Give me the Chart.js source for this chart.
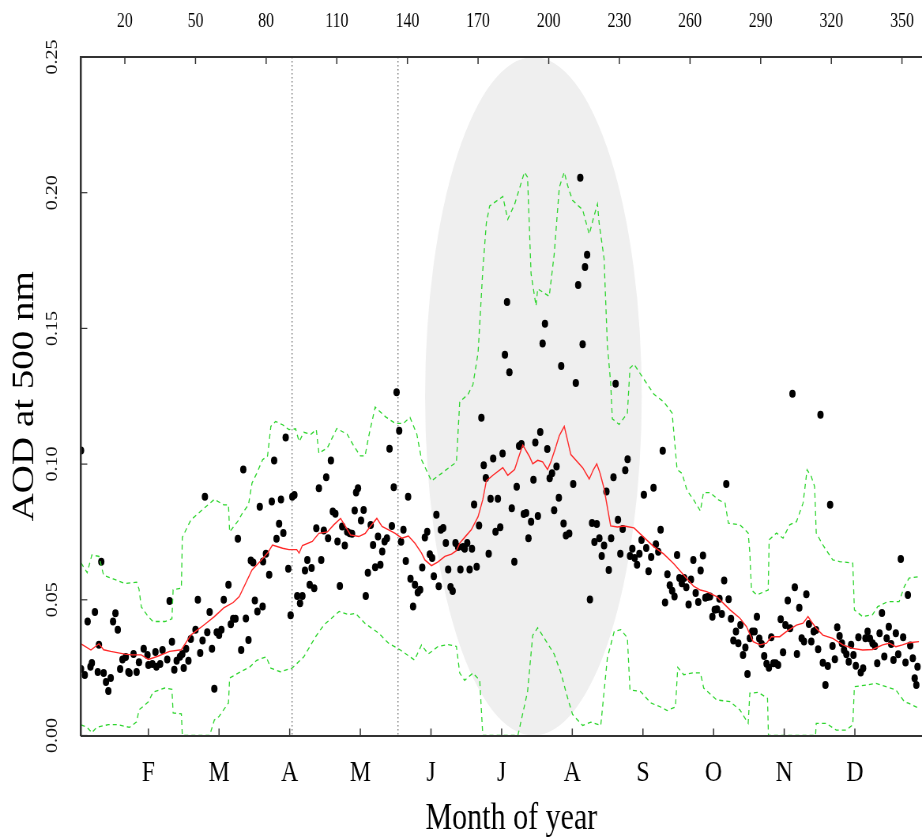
<!DOCTYPE html>
<html>
<head>
<meta charset="utf-8">
<title>AOD at 500 nm</title>
<script src="https://cdn.jsdelivr.net/npm/chart.js@4.4.1/dist/chart.umd.min.js"></script>
<style>
html, body { margin: 0; padding: 0; background: #fff; overflow: hidden; }
/* the original figure is squeezed sideways and cut off on the right, so draw wide and squeeze */
#wrap { width: 1196px; height: 840px; transform: scaleX(0.79006); transform-origin: 0 0; }
canvas { display: block; }
</style>
</head>
<body>
<div id="wrap"><canvas id="aod" width="1196" height="840"></canvas></div>
<script>
// axis ticks
const topTicks = [20, 50, 80, 110, 140, 170, 200, 230, 260, 290, 320, 350];
const monthTicks = [30, 60, 90, 120, 150, 180, 210, 240, 270, 300, 330];
const monthLabels = ['F', 'M', 'A', 'M', 'J', 'J', 'A', 'S', 'O', 'N', 'D'];
const yTicks = [0, 0.05, 0.10, 0.15, 0.20, 0.25];
const markDays = [91, 136];

// daily AOD values [day of year, AOD]
const dotsJanMar = [[1.4,0.105],[1.4,0.0245],[3,0.0223],[4.2,0.042],[5.4,0.0253],[6,0.0267],[7.3,0.0455],[8.5,0.0234],[9,0.0334],[10,0.064],
  [11,0.023],[12,0.0197],[13,0.0164],[14,0.0212],[15,0.042],[16,0.045],[17,0.039],[18,0.0245],[19,0.028],[20.4,0.0289],
  [21.5,0.0234],[22,0.023],[23.7,0.03],[25,0.0234],[26,0.027],[28,0.032],[29.6,0.0297],[30,0.026],[31.7,0.0263],[33,0.0308],
  [33.4,0.0253],[35,0.0263],[36,0.0315],[38,0.028],[39,0.0496],[40,0.0345],[41,0.0242],[42,0.0275],[43.4,0.029],[44.4,0.03],
  [45,0.0249],[46,0.032],[47,0.0275],[48,0.0356],[50,0.039],[51,0.05],[52,0.0304],[53,0.035],[54,0.088],[55,0.038],
  [56,0.0455],[57,0.032],[58,0.0172],[59,0.038],[60,0.037],[61,0.039],[62,0.05],[64,0.0555],[65,0.041],[66,0.043],
  [67,0.043],[68,0.0725],[69.4,0.0315],[70.3,0.098],[71.4,0.0431],[72.5,0.0352],[73.5,0.0645],[74.5,0.0637],[75.2,0.0497],[76.3,0.0457],
  [77.3,0.0843],[78.5,0.0475],[78.7,0.0641],[79.9,0.067],[81.3,0.0592],[82.4,0.0862],[83.4,0.1013],[84.4,0.0725],[85.5,0.078],[86.3,0.087],
  [87.3,0.0746],[88.3,0.1098],[89.4,0.0614]];
const dotsAprMay = [[90.4,0.0443],[91.1,0.088],[92,0.0886],[93.2,0.0514],[94.4,0.0487],[95.4,0.0514],[96.5,0.0608],[97.5,0.0647],[98.5,0.0555],[99.3,0.0617],
  [100.4,0.0543],[101.3,0.0764],[102.4,0.0911],[103.4,0.0647],[104.5,0.0755],[105.5,0.0952],[106.3,0.0727],[107.5,0.1013],[108.3,0.0825],[109.4,0.0817],
  [110.3,0.0715],[111.3,0.0551],[112.3,0.077],[113.4,0.07],[114.4,0.0751],[115.5,0.0745],[116.5,0.0743],[117.6,0.0829],[118.2,0.0895],[119,0.0911],
  [120.3,0.0792],[121.4,0.0831],[122.3,0.0514],[123.2,0.06],[124.4,0.0776],[125.4,0.0702],[126.3,0.062],[127.5,0.0733],[128.5,0.0629],[129.3,0.0678],
  [130.3,0.0715],[131.3,0.0727],[132.4,0.1057],[133.4,0.0772],[134.2,0.0915],[135.4,0.1265],[136.5,0.1123],[137.3,0.0714],[138.3,0.0758],[139.3,0.0643],
  [140.3,0.088],[141.3,0.0578],[142.4,0.0475],[143.2,0.0555],[144.4,0.0527],[145.4,0.0537],[146.3,0.0619],[147.4,0.073],[148.4,0.0751],[149.5,0.0668]];
const dotsJunAug = [[150.5,0.0654],[151.2,0.0587],[152.3,0.0813],[153.3,0.055],[154.2,0.0758],[155.2,0.0765],[156.3,0.0709],[157.3,0.0612],[158.3,0.0547],[159.2,0.0532],
  [160.4,0.0709],[161.5,0.0695],[162.5,0.0612],[163.6,0.0695],[164.3,0.0688],[165.4,0.0709],[166.4,0.0612],[167.4,0.0688],[168.3,0.0851],[169.4,0.0622],
  [170.4,0.0774],[171.4,0.1171],[172.4,0.0996],[173.3,0.0949],[174.5,0.067],[175.3,0.0872],[176.4,0.1021],[177.4,0.0751],[178.4,0.0872],[179.4,0.0767],
  [180.4,0.1039],[181.4,0.1403],[182.3,0.1597],[183.3,0.1338],[184.3,0.0837],[185.4,0.064],[186.4,0.0917],[187.4,0.1067],[188.4,0.1074],[189.4,0.0816],
  [190.4,0.082],[191.4,0.0727],[192.5,0.0788],[193.5,0.0942],[194.3,0.108],[195.4,0.0809],[196.4,0.1118],[197.4,0.1444],[198.4,0.1517],[199.4,0.1056],
  [200.4,0.0948],[201.4,0.0966],[202.3,0.083],[203.3,0.0991],[204.3,0.0876],[205.3,0.1361],[206.3,0.0781],[207.3,0.0737],[208.7,0.0744],[210.4,0.0927],
  [211.5,0.1299],[212.5,0.166],[213.4,0.2055],[214.4,0.1442],[215.4,0.1726],[216.3,0.1771],[217.5,0.0501],[218.4,0.0783],[219.4,0.0713],[220.4,0.0779],
  [221.5,0.0727],[222.5,0.0661],[223.5,0.07],[224.5,0.0899],[225.5,0.061],[226.5,0.0727],[227.5,0.0952],[228.4,0.1296],[229.4,0.0795],[230.4,0.067],
  [231.4,0.0761],[232.5,0.0977],[233.5,0.1018],[234.5,0.0661],[235.5,0.0688],[236.5,0.0654],[237.5,0.0629],[238.5,0.067],[239.4,0.072],[240.4,0.0887],[241.4,0.0691]];
const dotsSepDec = [[242.4,0.0605],[243.5,0.0658],[244.5,0.0913],[245.5,0.0705],[246.5,0.0677],[247.5,0.0758],[248.4,0.1049],[249.4,0.049],[250.4,0.0594],[251.4,0.0554],
  [252.4,0.0533],[253.4,0.0512],[254.5,0.0665],[255.5,0.058],[256.5,0.0561],[257.5,0.058],[258.4,0.0546],[259.4,0.0483],[260.4,0.0575],[261.4,0.0647],
  [262.4,0.0525],[263.5,0.0492],[264.5,0.0608],[265.5,0.0663],[266.5,0.0508],[267.4,0.051],[268.5,0.0512],[269.5,0.0438],[270.5,0.0463],[271.5,0.0465],
  [272.5,0.0504],[273.5,0.0448],[274.5,0.0571],[275.4,0.0927],[276.4,0.0502],[277.4,0.043],[278.4,0.035],[279.5,0.0383],[280.5,0.034],[281.4,0.0407],
  [282.5,0.0297],[283.5,0.0324],[284.4,0.0227],[285.4,0.0358],[286.4,0.0383],[287.4,0.0383],[288.4,0.0438],[289.4,0.0357],[290.4,0.0337],[291.5,0.0293],
  [292.5,0.0264],[293.5,0.025],[294.5,0.0362],[295.4,0.0266],[296.4,0.0266],[297.4,0.026],[298.5,0.0428],[299.5,0.0307],[300.5,0.0407],[301.5,0.0497],
  [302.5,0.0395],[303.5,0.1259],[304.5,0.0546],[305.4,0.03],[306.4,0.0471],[307.4,0.0358],[308.4,0.0346],[309.4,0.052],[310.5,0.0411],[311.5,0.0346],
  [312.5,0.0383],[313.5,0.0389],[314.4,0.0318],[315.4,0.1182],[316.4,0.0268],[317.5,0.0186],[318.5,0.0256],[319.5,0.085],[320.5,0.033],[321.5,0.0281],
  [322.5,0.0399],[323.5,0.0367],[324.5,0.034],[325.4,0.0315],[326.4,0.0299],[327.4,0.0272],[328.4,0.0334],[329.4,0.0297],[330.4,0.0257],[331.5,0.0362],
  [332.5,0.0232],[333.5,0.0248],[334.5,0.0358],[335.4,0.0383],[336.4,0.0357],[337.5,0.034],[338.5,0.033],[339.5,0.0266],[340.5,0.0377],[341.5,0.0451],
  [342.5,0.0291],[343.5,0.0358],[344.4,0.0401],[345.4,0.0337],[346.4,0.0278],[347.4,0.0377],[348.4,0.0299],[349.5,0.065],[350.5,0.0362],[351.5,0.0269],
  [352.5,0.0518],[353.5,0.0332],[354.6,0.0285],[355.4,0.0211],[356.1,0.0186],[356.6,0.0253]];

// running mean (red)
const meanLine = [[1.4,0.0338],[5.6,0.0315],[9,0.0338],[11,0.0316],[14,0.031],[20,0.03],[23,0.0297],[27,0.0297],[30,0.028],[34,0.0292],
  [39,0.031],[44,0.0316],[48,0.037],[54,0.041],[58,0.0438],[62,0.047],[66,0.049],[68.6,0.0512],[74,0.061],[77.8,0.0645],
  [80.6,0.0672],[82.7,0.0702],[87,0.069],[89.7,0.0685],[93,0.0685],[94,0.0672],[95.4,0.07],[99.6,0.0715],[102.4,0.0745],[106,0.075],
  [108.7,0.0776],[111.6,0.08],[113.7,0.077],[115.8,0.0739],[119.3,0.0733],[122.1,0.0745],[124.2,0.077],[127,0.08],[129.2,0.077],[132,0.0758],
  [134.8,0.0745],[137.6,0.0727],[140.4,0.0735],[143.2,0.0708],[146,0.0672],[147.4,0.0647],[150.2,0.0626],[153,0.064],[155.9,0.066],[158.7,0.0668],
  [160.8,0.0681],[162.2,0.0709],[164.3,0.073],[167.1,0.0758],[170,0.0806],[172,0.0869],[173.5,0.0938],[176.3,0.0959],[180.5,0.0987],[182.6,0.0959],
  [185.5,0.098],[187.6,0.1035],[189,0.107],[191.8,0.1028],[193.2,0.1001],[195.3,0.1014],[197.4,0.1008],[199.5,0.098],[200.9,0.1008],[203,0.1063],
  [204.5,0.1105],[206.6,0.1139],[209.4,0.1035],[214.4,0.0987],[217.2,0.0945],[219,0.098],[220.4,0.1001],[221.8,0.0966],[223.5,0.091],[224.9,0.0841],
  [226.3,0.0772],[229.2,0.0768],[232,0.0772],[236.2,0.0765],[240.4,0.073],[244.7,0.0695],[248.9,0.0668],[253.1,0.0633],[257.3,0.0591],[261.5,0.055],
  [264.4,0.0536],[267.1,0.053],[271.3,0.0512],[274.2,0.0487],[277,0.0463],[281.2,0.0432],[284,0.0401],[286.8,0.0346],[289.7,0.0334],[292.5,0.034],
  [294.6,0.0364],[298.1,0.0364],[300.9,0.0383],[305.2,0.0407],[308,0.0414],[310.1,0.0438],[311.5,0.042],[313.6,0.0395],[316.4,0.037],[320.6,0.0358],
  [324.9,0.0334],[329.1,0.0321],[333.3,0.0315],[337.5,0.0317],[341.8,0.0334],[344.6,0.034],[347.4,0.0327],[350.2,0.0334],[353,0.0342],[357.2,0.0346]];

// upper and lower envelopes (green dashed)
const upperLine = [[1.4,0.0636],[4,0.06],[6,0.0665],[9,0.066],[11,0.059],[15,0.0577],[20,0.056],[25,0.0565],[26,0.054],[27,0.0474],
  [30,0.0437],[32,0.042],[37,0.042],[40,0.043],[40.5,0.0537],[44,0.0543],[44.4,0.073],[48,0.0794],[54,0.084],[58,0.087],
  [62,0.085],[64,0.085],[64.5,0.075],[68,0.079],[70,0.082],[72.5,0.085],[74,0.093],[76,0.0966],[78.5,0.1016],[80.6,0.103],
  [82,0.1139],[84,0.1157],[87,0.1145],[89.7,0.1127],[92.5,0.113],[94,0.1083],[96,0.1117],[99,0.111],[101.3,0.1127],[102.4,0.104],
  [106,0.106],[110,0.1131],[114.4,0.111],[117.2,0.1067],[120,0.103],[122,0.103],[123.5,0.11],[126.3,0.121],[130.6,0.1175],[134.8,0.115],
  [138.3,0.115],[141.1,0.1172],[144,0.111],[146,0.1016],[150.2,0.0938],[154.5,0.0966],[158.7,0.0994],[160.8,0.1007],[162.2,0.1229],[165.7,0.1257],
  [167.8,0.1292],[170,0.141],[172,0.1715],[173.5,0.1888],[174.9,0.1951],[180.5,0.1986],[182.6,0.1902],[185.5,0.1957],[189.7,0.2076],[191,0.2057],
  [192.5,0.1701],[194.6,0.1583],[195.3,0.1646],[200.2,0.1618],[202.3,0.1771],[204.5,0.202],[206.6,0.2076],[208,0.2027],[210.1,0.1972],[214.4,0.1937],
  [217.2,0.1847],[219.3,0.1916],[220.7,0.1958],[221.4,0.1888],[223.5,0.1757],[224.9,0.1438],[226.3,0.1299],[227,0.1167],[229.9,0.1146],[233.4,0.1188],
  [234.5,0.1354],[236.2,0.1368],[240.4,0.1313],[244.7,0.1257],[248.9,0.1229],[252.4,0.1188],[254.5,0.098],[256.6,0.0966],[258.7,0.0903],[261.5,0.0869],
  [264.4,0.0827],[265.7,0.0895],[268.5,0.0895],[272.1,0.0868],[274.9,0.0856],[276.3,0.0782],[281.2,0.0776],[284.7,0.0746],[285.4,0.0672],[286.1,0.0536],
  [288.3,0.0518],[293.2,0.0536],[293.6,0.0721],[296.7,0.0746],[299.5,0.0727],[302.3,0.0776],[305.2,0.0788],[308,0.0856],[309.7,0.0979],[311.5,0.0954],
  [312.9,0.0917],[313.6,0.0746],[316.4,0.0702],[320.6,0.0647],[323.5,0.0641],[329.1,0.0635],[329.8,0.0463],[333.3,0.0438],[337.5,0.0445],[339.7,0.0475],
  [343.9,0.0493],[348.8,0.0493],[351,0.0549],[353,0.058],[357.2,0.0585]];
const lowerLine = [[1.4,0.0039],[4,0.003],[6,0.001],[8,0.003],[13,0.004],[17,0.004],[22,0.003],[25,0.005],[26,0.0094],[30,0.0124],
  [32,0.016],[37,0.0175],[40,0.017],[40.5,0.0083],[44,0.008],[44.4,0],[56,0],[58,0.0057],[60,0.007],[64,0.012],
  [64.5,0.0212],[69,0.0234],[73,0.0252],[76,0.0277],[80,0.029],[82,0.0248],[86,0.0235],[91,0.0248],[96,0.029],[101,0.0364],
  [104.5,0.0407],[111,0.0457],[115,0.0445],[118,0.045],[122,0.0413],[127.8,0.0377],[132,0.034],[137,0.0315],[143,0.0278],[146,0.0334],
  [148.8,0.03],[153,0.0328],[157.3,0.0335],[160.8,0.0328],[162.2,0.023],[164.3,0.0203],[167.8,0.023],[170.7,0.0203],[172,0],[186.9,0],
  [191,0.0161],[193.2,0.0369],[195.3,0.0397],[198.8,0.0349],[202.3,0.03],[205.2,0.023],[207.7,0.0148],[210.1,0.0078],[214.4,0.0037],[217.9,0.0049],
  [222.1,0.0037],[224.9,0.0286],[227.8,0.0383],[230.6,0.039],[233.4,0.036],[234.5,0.0168],[239,0.0162],[243.3,0.012],[247.5,0.0105],[250.3,0.0092],
  [253.8,0.0105],[254.8,0.0251],[257.3,0.0224],[261.5,0.0231],[264.4,0.0231],[265.8,0.0175],[271.3,0.0131],[277,0.0125],[281.2,0.0094],[284.7,0.0045],
  [285.4,0.0156],[289,0.0159],[292.9,0.0137],[293.3,0],[313.3,0],[313.6,0.0045],[317.8,0.0045],[322.1,0.002],[326.3,0.002],[329.1,0.0039],
  [329.8,0.018],[334.7,0.0186],[339,0.0192],[343.2,0.018],[347.4,0.0168],[351,0.0125],[353,0.0118],[357.2,0.01]];

// grey haze ellipse: centre and half extents in data units
const hazeCentre = [193.5, 0.125];
const hazeHalf = [46, 0.125];

const serif = "'Liberation Serif', 'Times New Roman', serif";
const toXY = arr => arr.map(p => ({ x: p[0], y: p[1] }));

const backdrop = {
  id: 'backdrop',
  beforeDatasetsDraw(chart) {
    const { ctx, chartArea: a, scales: { x, y } } = chart;
    ctx.save();
    ctx.beginPath();
    ctx.rect(a.left, a.top, a.right - a.left, a.bottom - a.top);
    ctx.clip();
    const cx = x.getPixelForValue(hazeCentre[0]);
    const cy = y.getPixelForValue(hazeCentre[1]);
    const rx = x.getPixelForValue(hazeCentre[0] + hazeHalf[0]) - cx;
    const ry = cy - y.getPixelForValue(hazeCentre[1] + hazeHalf[1]);
    ctx.fillStyle = '#efefef';
    ctx.beginPath();
    ctx.ellipse(cx, cy, rx, ry, 0, 0, 2 * Math.PI);
    ctx.fill();
    // dotted day markers
    ctx.strokeStyle = '#777';
    ctx.lineWidth = 1.3;
    ctx.setLineDash([1.5, 2.5]);
    markDays.forEach(d => {
      const px = x.getPixelForValue(d);
      ctx.beginPath();
      ctx.moveTo(px, a.top);
      ctx.lineTo(px, a.bottom);
      ctx.stroke();
    });
    ctx.restore();
  }
};

// inward tick marks and the rotated y labels
const axisMarks = {
  id: 'axisMarks',
  afterDraw(chart) {
    const { ctx, chartArea: a, scales: { x, x2, y } } = chart;
    ctx.save();
    ctx.strokeStyle = '#333';
    ctx.lineWidth = 1.5;
    monthTicks.forEach(v => {
      const px = x.getPixelForValue(v);
      ctx.beginPath(); ctx.moveTo(px, a.bottom); ctx.lineTo(px, a.bottom - 7); ctx.stroke();
    });
    topTicks.forEach(v => {
      const px = x2.getPixelForValue(v);
      ctx.beginPath(); ctx.moveTo(px, a.top); ctx.lineTo(px, a.top + 7); ctx.stroke();
    });
    ctx.lineWidth = 1.2;
    yTicks.forEach(v => {
      const py = y.getPixelForValue(v);
      ctx.beginPath(); ctx.moveTo(a.left, py); ctx.lineTo(a.left + 8, py); ctx.stroke();
    });
    ctx.fillStyle = '#111';
    ctx.font = '20px ' + serif;
    ctx.textAlign = 'center';
    ctx.textBaseline = 'middle';
    yTicks.forEach(v => {
      ctx.save();
      ctx.translate(67, y.getPixelForValue(v));
      ctx.rotate(-Math.PI / 2);
      ctx.fillText(v.toFixed(2), 0, 0);
      ctx.restore();
    });
    ctx.restore();
  }
};

// x range runs a little past the window edge, as in the cropped original
const dayMin = 1.38, dayMax = 366.9;

new Chart(document.getElementById('aod'), {
  type: 'scatter',
  data: {
    datasets: [
      { data: toXY(meanLine), showLine: true, borderColor: '#ff2a2a', borderWidth: 1.4, pointRadius: 0 },
      { data: toXY(upperLine), showLine: true, borderColor: '#2fd52f', borderWidth: 1.3, borderDash: [5, 4], pointRadius: 0 },
      { data: toXY(lowerLine), showLine: true, borderColor: '#2fd52f', borderWidth: 1.3, borderDash: [5, 4], pointRadius: 0 },
      {
        data: toXY([].concat(dotsJanMar, dotsAprMay, dotsJunAug, dotsSepDec)),
        pointRadius: 4, pointBackgroundColor: '#000', pointBorderWidth: 0
      }
    ]
  },
  options: {
    responsive: false,
    animation: false,
    layout: { padding: 0 },
    plugins: { legend: { display: false }, tooltip: { enabled: false } },
    scales: {
      x: {
        type: 'linear', position: 'bottom', min: dayMin, max: dayMax,
        afterBuildTicks: s => { s.ticks = monthTicks.map(v => ({ value: v })); },
        afterFit: s => { s.height = 104.5; },
        grid: { display: false, drawTicks: false },
        border: { display: true, color: '#333', width: 2, z: 1 },
        ticks: {
          autoSkip: false, maxRotation: 0, minRotation: 0, padding: 20, color: '#000',
          font: { family: serif, size: 30 },
          callback: v => monthLabels[monthTicks.indexOf(v)]
        },
        title: { display: true, text: 'Month of year', color: '#000', padding: 0, font: { family: serif, size: 38, lineHeight: '42px' } }
      },
      x2: {
        type: 'linear', position: 'top', min: dayMin, max: dayMax,
        afterBuildTicks: s => { s.ticks = topTicks.map(v => ({ value: v })); },
        afterFit: s => { s.height = 57; },
        grid: { display: false, drawTicks: false },
        border: { display: true, color: '#333', width: 2, z: 1 },
        ticks: {
          autoSkip: false, maxRotation: 0, minRotation: 0, padding: 0, color: '#000',
          font: { family: serif, size: 20, lineHeight: '71px' }
        }
      },
      y: {
        min: 0, max: 0.25,
        afterBuildTicks: s => { s.ticks = yTicks.map(v => ({ value: v })); },
        afterFit: s => { s.width = 102.5; },
        grid: { display: false, drawTicks: false },
        border: { display: true, color: '#333', width: 2.5, z: 1 },
        ticks: { display: false },
        title: { display: true, text: 'AOD at 500 nm', color: '#000', padding: { top: 8, bottom: 0 }, font: { family: serif, size: 39 } }
      }
    }
  },
  plugins: [backdrop, axisMarks]
});
</script>
</body>
</html>
